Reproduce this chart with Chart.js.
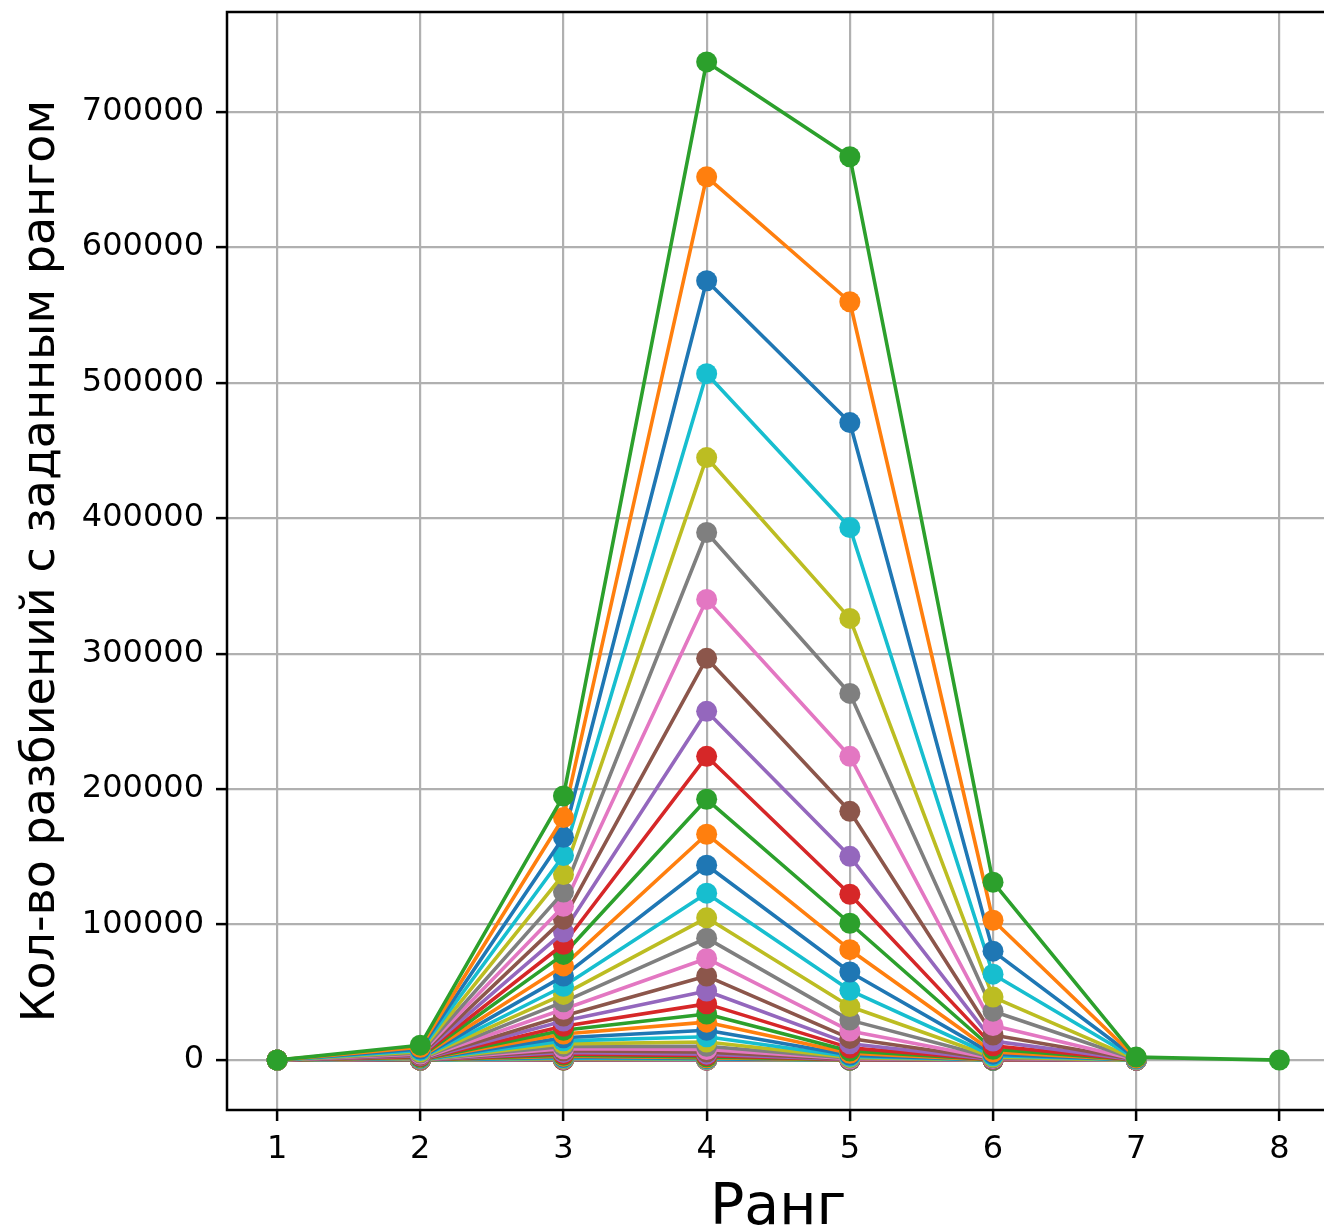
<!DOCTYPE html>
<html>
<head>
<meta charset="utf-8">
<script src="https://cdn.jsdelivr.net/npm/chart.js@4.4.1/dist/chart.umd.min.js"></script>
<style>
  html, body { margin: 0; padding: 0; background: #fff; overflow: hidden; }
  #wrap { width: 1340px; height: 1232px; }
</style>
</head>
<body>
<div id="wrap"><canvas id="c" width="1340" height="1232"></canvas></div>
<script>
// Ranks (x categories) and tick labels
const ranks = [1, 2, 3, 4, 5, 6, 7, 8];
const xTicks = [1, 2, 3, 4, 5, 6, 7, 8];
const yTicks = [0, 100000, 200000, 300000, 400000, 500000, 600000, 700000];

// Values per rank, one entry per series (series 0 = smallest ... series 42 = largest)
const rank1 = [1,1,1,1,1,1,1,1,1,1,1,1,1,1,1,1,1,1,1,1,1,1,1,1,1,1,1,1,1,1,1,1,1,1,1,1,1,1,1,1,1,1,1];
const rank2 = [1,1,1,1,1,2,3,5,7,9,13,18,25,34,45,60,78,100,130,170,215,270,340,420,520,640,780,950,1150,1350,1650,1950,2300,2750,3250,3800,4500,5200,6100,7100,8200,9500,11000];
const rank3 = [60,100,150,230,340,480,670,920,1250,1650,2150,2800,3600,4500,5600,6900,8400,10100,12000,14200,16500,19200,22000,25000,28800,32500,37500,43000,48500,54500,62000,69500,78000,85500,94500,104000,113500,124000,137000,151000,164500,179000,195000];
const rank4 = [15,27,45,75,120,180,280,420,610,880,1250,1750,2400,3300,4400,5900,7800,10200,13300,17200,22000,28000,34000,41500,51000,62000,75000,90000,105000,123200,143800,166700,192500,224200,257400,296500,340000,389400,444700,506600,575200,651900,736700];
const rank5 = [1,1,2,4,6,10,17,27,42,65,100,155,230,340,490,700,1000,1400,1950,2700,3700,5000,6700,9000,12000,16000,21500,29500,39500,51500,65000,81500,101000,122400,150400,183600,224200,270600,326000,393100,470500,559700,666700];
const rank6 = [0,0,0,0,0,0,0,0,0,0,0,1,2,3,6,10,17,28,45,70,110,165,250,370,550,800,1150,1650,2300,3200,4400,6000,8000,10500,14000,18500,25500,36100,46500,63400,80400,103200,131300];
const rank7 = [0,0,0,0,0,0,0,0,0,0,0,0,0,0,0,0,0,0,0,0,0,0,0,0,0,1,2,4,7,12,20,32,50,80,120,180,270,400,580,820,1150,1600,2200];
const rank8 = [null,null,null,null,null,null,null,null,null,null,null,null,null,null,null,null,null,null,null,null,null,null,null,null,null,null,null,null,null,null,null,null,null,null,null,null,null,null,null,null,null,null,1];

const palette = ['#1f77b4','#ff7f0e','#2ca02c','#d62728','#9467bd','#8c564b','#e377c2','#7f7f7f','#bcbd22','#17becf'];

const byRank = [rank1, rank2, rank3, rank4, rank5, rank6, rank7, rank8];
const nSeries = rank4.length;
const datasets = [];
let dMax = -Infinity, dMin = Infinity;
for (let i = 0; i < nSeries; i++) {
  const col = palette[i % 10];
  const pts = ranks.map((r, k) => ({ x: r, y: byRank[k][i] }));
  pts.forEach(p => { if (p.y !== null) { dMax = Math.max(dMax, p.y); dMin = Math.min(dMin, p.y); } });
  datasets.push({
    data: pts,
    borderColor: col,
    backgroundColor: col,
    pointBackgroundColor: col,
    pointBorderColor: col,
    pointBorderWidth: 0,
    pointRadius: 10.5,
    borderWidth: 3.6,
    borderJoinStyle: 'round',
    tension: 0,
    spanGaps: false,
    order: nSeries - 1 - i
  });
}
const yPad = (dMax - dMin) * 0.05;
const xPad = (ranks[ranks.length - 1] - ranks[0]) * 0.05;

const framePlugin = {
  id: 'frame',
  afterDatasetsDraw(chart) {
    const { ctx, chartArea: a } = chart;
    ctx.save();
    ctx.strokeStyle = '#000';
    ctx.lineWidth = 2.5;
    ctx.strokeRect(a.left, a.top, a.right - a.left, a.bottom - a.top);
    ctx.restore();
  }
};

const tickFont = { family: 'DejaVu Sans', size: 32 };

new Chart(document.getElementById('c'), {
  type: 'line',
  data: { datasets },
  plugins: [framePlugin],
  options: {
    responsive: false,
    animation: false,
    devicePixelRatio: 1,
    layout: { padding: { top: 12, left: 0, right: 10, bottom: 0 } },
    plugins: { legend: { display: false }, tooltip: { enabled: false }, title: { display: false } },
    scales: {
      x: {
        type: 'linear',
        min: ranks[0] - xPad,
        max: ranks[ranks.length - 1] + xPad,
        afterBuildTicks: s => { s.ticks = xTicks.map(v => ({ value: v })); },
        afterFit: s => { s.height = 122; s.paddingLeft = 0; s.paddingRight = 0; },
        ticks: { font: tickFont, color: '#000', padding: 9, autoSkip: false, maxRotation: 0, callback: v => String(v) },
        grid: { color: '#b0b0b0', lineWidth: 2.2, drawTicks: true, tickLength: 11, tickColor: '#000', tickWidth: 2.5 },
        border: { display: false },
        title: { display: true, text: 'Ранг', color: '#000', font: { family: 'DejaVu Sans', size: 57, lineHeight: 0.8 }, padding: { top: 0, bottom: 0 } }
      },
      y: {
        type: 'linear',
        min: dMin - yPad,
        max: dMax + yPad,
        afterBuildTicks: s => { s.ticks = yTicks.map(v => ({ value: v })); },
        afterFit: s => { s.width = 227; s.paddingTop = 0; s.paddingBottom = 0; },
        ticks: { font: tickFont, color: '#000', padding: 12, callback: v => String(v) },
        grid: { color: '#b0b0b0', lineWidth: 2.2, drawTicks: true, tickLength: 11, tickColor: '#000', tickWidth: 2.5 },
        border: { display: false },
        title: { display: true, text: 'Кол-во разбиений с заданным рангом', color: '#000', font: { family: 'DejaVu Sans', size: 46, lineHeight: 1 }, padding: { top: 19, bottom: 0 } }
      }
    }
  }
});
</script>
</body>
</html>
